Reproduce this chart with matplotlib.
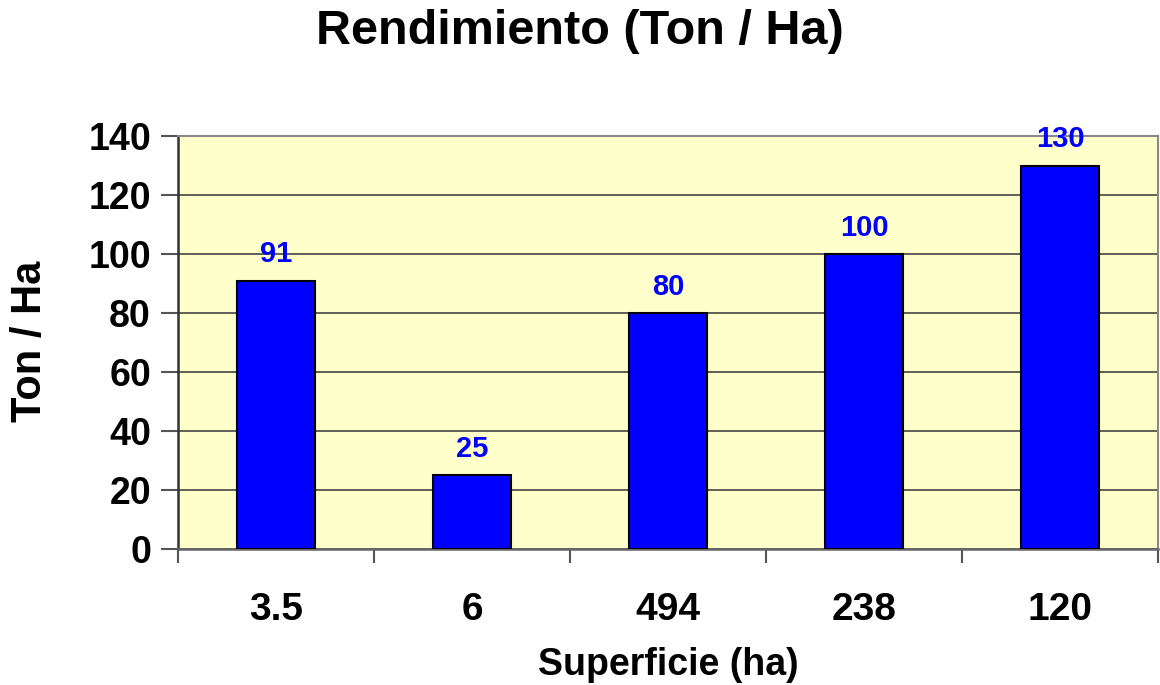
import numpy as np
import matplotlib
matplotlib.use('Agg')
import matplotlib.pyplot as plt

# Data
superficie = ['3.5', '6', '494', '238', '120']
rendimiento = [91, 25, 80, 100, 130]
yticks = [0, 20, 40, 60, 80, 100, 120, 140]

plt.rcParams['font.family'] = 'Liberation Sans'
plt.rcParams['font.weight'] = 'bold'

fig = plt.figure(figsize=(11.6, 6.85), dpi=100)
ax = fig.add_axes([178/1160, 136/685, 980/1160, 413/685])
ax.set_facecolor('#FFFFCC')

x = np.arange(len(superficie))
bars = ax.bar(x, rendimiento, width=0.4, color='#0000FF', edgecolor='black',
              linewidth=1.5, zorder=3)

# value labels above the bars
for xi, v in zip(x, rendimiento):
    ax.annotate(str(v), (xi, v), xytext=(0, 13), textcoords='offset points',
                ha='center', va='baseline', color='#0000FF', fontsize=21,
                fontweight='bold', zorder=4)

ax.set_xlim(-0.5, len(superficie) - 0.5)
ax.set_ylim(0, 140)
ax.set_yticks(yticks)
ax.yaxis.grid(True, color='#444444', linewidth=1.2, zorder=1)
ax.set_axisbelow(True)

# category boundaries as x ticks, labels in the middle
ax.set_xticks(np.arange(len(superficie) + 1) - 0.5)
ax.set_xticklabels([])
ax.set_xticks(x, minor=True)
ax.set_xticklabels(superficie, minor=True, fontsize=28, fontweight='bold')
ax.tick_params(axis='x', which='minor', length=0, pad=31)
ax.tick_params(axis='x', which='major', length=10, width=1.5, color='#555555')
ax.tick_params(axis='y', length=12, width=1.5, color='#555555', pad=7.5,
               labelsize=27)
for lab in ax.get_yticklabels():
    lab.set_fontweight('bold')

ax.spines['left'].set_color('#333333')
ax.spines['left'].set_linewidth(1.8)
ax.spines['bottom'].set_color('#666666')
ax.spines['bottom'].set_linewidth(1.8)
ax.spines['top'].set_color('#888888')
ax.spines['top'].set_linewidth(1.5)
ax.spines['right'].set_color('#888888')
ax.spines['right'].set_linewidth(1.5)

fig.text(0.5, 1 - 32/685, 'Rendimiento (Ton / Ha)', ha='center', va='center',
         fontsize=35, fontweight='bold')
fig.text(668/1160, 1 - 665/685, 'Superficie (ha)', ha='center', va='center',
         fontsize=27, fontweight='bold')
fig.text(30/1160, 1 - 341/685, 'Ton / Ha', ha='center', va='center',
         rotation=90, fontsize=30, fontweight='bold')

fig.savefig('out.png', dpi=100)
